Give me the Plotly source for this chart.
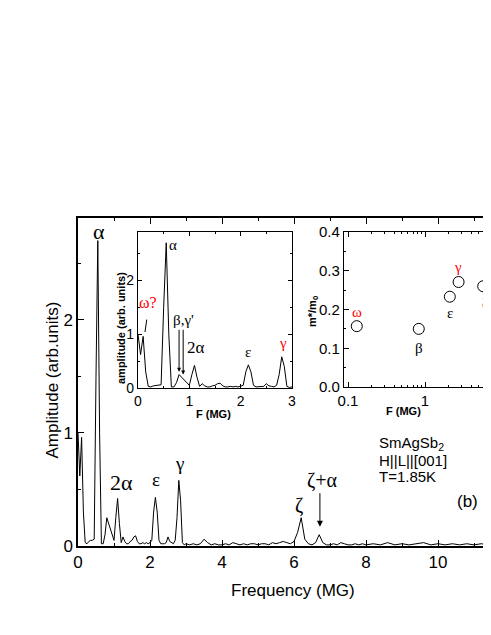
import plotly.graph_objects as go

# ---------------------------------------------------------------- data
# main spectrum, low-frequency part (MG) and amplitude (arb. units)
freq_low = [0.00, 0.05, 0.10, 0.15, 0.20, 0.25, 0.30, 0.35, 0.40, 0.45,
            0.50, 0.55, 0.60, 0.65, 0.70, 0.75, 0.80, 0.85, 0.90, 0.95,
            1.00, 1.05, 1.10, 1.15, 1.20, 1.25, 1.30, 1.35, 1.40, 1.45,
            1.50, 1.55, 1.60, 1.65, 1.70, 1.75, 1.80, 1.85, 1.90, 1.95,
            2.00, 2.05, 2.10, 2.15, 2.20, 2.25, 2.30, 2.35, 2.40, 2.45,
            2.50, 2.55, 2.60, 2.65, 2.70, 2.75, 2.80, 2.85, 2.90, 2.95]
amp_low = [1.00, 0.62, 0.96, 0.30, 0.03, 0.02, 0.04, 0.05, 0.05, 0.06,
           1.50, 2.70, 1.00, 0.02, 0.02, 0.10, 0.25, 0.20, 0.15, 0.08,
           0.05, 0.25, 0.42, 0.20, 0.03, 0.08, 0.04, 0.02, 0.02, 0.04,
           0.05, 0.08, 0.09, 0.04, 0.02, 0.02, 0.03, 0.02, 0.03, 0.02,
           0.03, 0.05, 0.30, 0.43, 0.30, 0.05, 0.02, 0.02, 0.02, 0.03,
           0.08, 0.04, 0.03, 0.02, 0.05, 0.25, 0.58, 0.40, 0.03, 0.01]
# main spectrum, high-frequency part
freq_high = [3.0, 3.1, 3.2, 3.3, 3.4, 3.5, 3.6, 3.7, 3.8, 3.9,
             4.0, 4.1, 4.2, 4.3, 4.4, 4.5, 4.6, 4.7, 4.8, 4.9,
             5.0, 5.1, 5.2, 5.3, 5.4, 5.5, 5.6, 5.7, 5.8, 5.9,
             6.0, 6.1, 6.2, 6.3, 6.4, 6.5, 6.6, 6.7, 6.8, 6.9,
             7.0, 7.1, 7.2, 7.3, 7.4, 7.5, 7.6, 7.7, 7.8, 7.9,
             8.0, 8.2, 8.4, 8.6, 8.8, 9.0, 9.2, 9.4, 9.6, 9.8,
             10.0, 10.2, 10.4, 10.6, 10.8, 11.0, 11.2, 11.4, 11.6]
amp_high = [0.02, 0.01, 0.02, 0.01, 0.02, 0.06, 0.03, 0.01, 0.02, 0.01,
            0.01, 0.02, 0.01, 0.03, 0.02, 0.01, 0.02, 0.01, 0.02, 0.02,
            0.01, 0.02, 0.02, 0.01, 0.03, 0.02, 0.03, 0.04, 0.03, 0.02,
            0.04, 0.12, 0.25, 0.06, 0.02, 0.01, 0.03, 0.10, 0.03, 0.01,
            0.01, 0.02, 0.01, 0.03, 0.02, 0.01, 0.01, 0.02, 0.01, 0.02,
            0.01, 0.02, 0.01, 0.03, 0.01, 0.02, 0.01, 0.02, 0.03, 0.01,
            0.02, 0.01, 0.02, 0.01, 0.02, 0.01, 0.02, 0.01, 0.02]

# effective masses (inset b)
mass_freq = [0.13, 0.83, 2.1, 2.73, 5.7]
mass_ratio = [0.157, 0.150, 0.233, 0.271, 0.260]

freq_all = freq_low + freq_high
amp_all = amp_low + amp_high

# the page body has an 8px margin: shift every screen position back by 8px,
# the figure runs up to the right edge of the window (frame is cut there)
W, H = 491, 635
OFF = 8
FW, FH = W - OFF, H - 2 * OFF
SANS = "Liberation Sans, Arial, sans-serif"
SERIF = "Liberation Serif, Times New Roman, serif"


def px_x(p):
    return (p - OFF) / FW


def px_y(p):
    return (H - OFF - p) / FH


fig = go.Figure()

# ---------------------------------------------------------------- traces
fig.add_trace(go.Scatter(x=freq_all, y=amp_all, mode="lines",
                         line=dict(color="black", width=1),
                         xaxis="x", yaxis="y", showlegend=False))
fig.add_trace(go.Scatter(x=freq_low + [3.0], y=amp_low + [0.02], mode="lines",
                         line=dict(color="black", width=1),
                         xaxis="x2", yaxis="y2", showlegend=False))
fig.add_trace(go.Scatter(x=mass_freq, y=mass_ratio, mode="markers",
                         marker=dict(symbol="circle-open", size=11,
                                     color="black", line=dict(width=1)),
                         cliponaxis=False,
                         xaxis="x3", yaxis="y3", showlegend=False))

# ---------------------------------------------------------------- axes
common = dict(showline=True, linecolor="black", linewidth=1.5, ticks="inside",
              tickcolor="black", showgrid=False, zeroline=False,
              automargin=False)

x_right = (W - 78) / 36.0          # main axis: 36 px per MG
log_right = (W - 348) / 77.0 - 1   # inset: 77 px per decade

fig.update_layout(
    template="none",
    width=FW, height=FH, autosize=False,
    margin=dict(l=0, r=0, t=0, b=0, pad=0),
    paper_bgcolor="white", plot_bgcolor="rgba(0,0,0,0)",
    font=dict(family=SANS, color="black"),
    xaxis=dict(common, domain=[px_x(78), 1.0], range=[0, x_right],
               anchor="y", mirror="allticks", tickvals=[0, 2, 4, 6, 8, 10],
               ticklen=6, tickwidth=1.2,
               minor=dict(ticks="inside", dtick=1, ticklen=3, tickcolor="black"),
               tickfont=dict(size=17)),
    yaxis=dict(common, domain=[px_y(546), px_y(218)], range=[0, 2.9],
               anchor="x", tickvals=[0, 1, 2], ticklen=6, tickwidth=1.2,
               minor=dict(ticks="inside", dtick=0.5, ticklen=3, tickcolor="black"),
               tickfont=dict(size=17)),
    xaxis2=dict(common, domain=[px_x(138), px_x(292)], range=[0, 3],
                anchor="y2", mirror="allticks", tickvals=[0, 1, 2, 3],
                ticklen=4, linewidth=1.2,
                minor=dict(ticks="inside", dtick=0.5, ticklen=2, tickcolor="black"),
                tickfont=dict(size=14)),
    yaxis2=dict(common, domain=[px_y(388), px_y(232)], range=[0, 2.9],
                anchor="x2", mirror="allticks", tickvals=[0, 1, 2],
                ticklen=4, linewidth=1.2,
                minor=dict(ticks="inside", dtick=0.5, ticklen=2, tickcolor="black"),
                tickfont=dict(size=14)),
    xaxis3=dict(common, type="log", domain=[px_x(344), 1.0],
                range=[-1.052, log_right], anchor="y3", mirror="allticks",
                tickvals=[0.1, 1], ticktext=["0.1", "1"], ticklen=5,
                linewidth=1.2,
                minor=dict(ticks="inside", ticklen=2, tickcolor="black",
                           tickvals=[0.2, 0.3, 0.4, 0.5, 0.6, 0.7, 0.8, 0.9,
                                     2, 3, 4, 5, 6, 7]),
                tickfont=dict(size=15)),
    yaxis3=dict(common, domain=[px_y(387), px_y(232)], range=[0, 0.4],
                anchor="x3", tickvals=[0, 0.1, 0.2, 0.3, 0.4],
                ticktext=["0.0", "0.1", "0.2", "0.3", "0.4"], ticklen=5,
                linewidth=1.2,
                minor=dict(ticks="inside", dtick=0.05, ticklen=2, tickcolor="black"),
                tickfont=dict(size=15)),
)

# ---------------------------------------------------------------- labels
anns = []


def label(text, x, y, ref, size, color="black", family=SERIF, **kw):
    xr, yr = ref
    anns.append(dict(text=text, x=x, y=y, xref=xr, yref=yr, showarrow=False,
                     font=dict(size=size, color=color, family=family), **kw))


def arrow(x0, y0, x1, y1, ref, head=2, size=1.0):
    xr, yr = ref
    anns.append(dict(text="", x=x1, y=y1, ax=x0, ay=y0, xref=xr, yref=yr,
                     axref=xr, ayref=yr, showarrow=True, arrowhead=head,
                     arrowsize=size, arrowwidth=1, arrowcolor="black"))


main = ("x", "y")
ins1 = ("x2", "y2")
ins2 = ("x3", "y3")

# main panel peaks
label("α", 0.58, 2.78, main, 22)
label("2α", 1.22, 0.56, main, 22)
label("ε", 2.17, 0.59, main, 19)
label("γ", 2.83, 0.73, main, 19)
label("ζ", 6.14, 0.36, main, 20)
label("ζ+α", 6.78, 0.58, main, 20)
arrow(6.72, 0.48, 6.72, 0.17, main, head=2, size=1.2)

# spectrum inset
label("α", 0.68, 2.65, ins1, 15)
label("ω?", 0.19, 1.59, ins1, 16, color="red")
label("β,γ'", 0.88, 1.26, ins1, 15)
label("2α", 1.13, 0.76, ins1, 17)
label("ε", 2.14, 0.67, ins1, 15)
label("γ", 2.83, 0.83, ins1, 15, color="red")
arrow(0.175, 1.30, 0.136, 1.04, ins1, head=0)
arrow(0.80, 1.11, 0.80, 0.30, ins1, head=2, size=0.8)
arrow(0.88, 1.11, 0.88, 0.25, ins1, head=2, size=0.8)

# mass inset (log axis -> log10 coordinates)
label("ω", -0.883, 0.194, ins2, 15, color="red")
label("β", -0.078, 0.101, ins2, 15)
label("ε", 0.325, 0.192, ins2, 15)
label("γ", 0.429, 0.31, ins2, 15, color="red")
label("ζ", 0.779, 0.218, ins2, 15)

# axis titles
paper = ("paper", "paper")
label("Frequency (MG)", px_x(293), px_y(579), paper, 17, family=SANS,
      yanchor="top")
label("Amplitude (arb.units)", px_x(40), px_y(380), paper, 17, family=SANS,
      textangle=-90)
label("<b>amplitude (arb. units)</b>", px_x(113), px_y(328), paper, 11,
      family=SANS, textangle=-90)
label("<b>F (MG)</b>", px_x(213), px_y(414), paper, 11, family=SANS)
label("<b>m*/m<sub>0</sub></b>", px_x(313), px_y(312), paper, 11,
      family=SANS, textangle=-90)
label("<b>F (MG)</b>", px_x(423), px_y(411), paper, 11, family=SANS)

# sample info
label("SmAgSb<sub>2</sub>", px_x(377), px_y(455), paper, 15, family=SANS,
      xanchor="left")
label("H||L||[001]", px_x(377), px_y(471), paper, 15, family=SANS,
      xanchor="left")
label("T=1.85K", px_x(377), px_y(487), paper, 15, family=SANS,
      xanchor="left")
label("(b)", px_x(480), px_y(513), paper, 17, family=SANS)

fig.update_layout(annotations=anns)

fig.write_html("out.html")
